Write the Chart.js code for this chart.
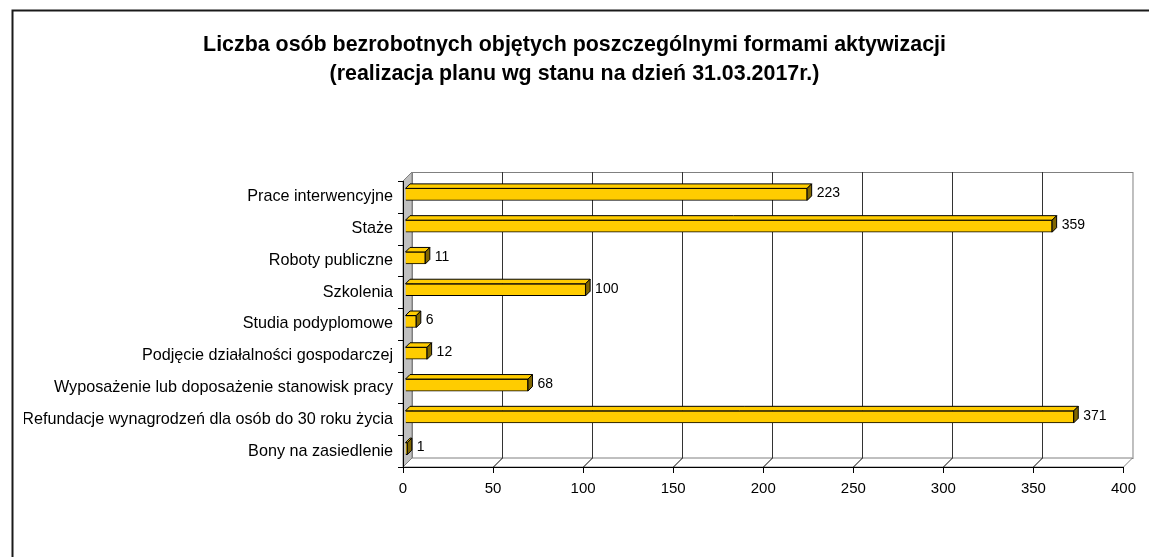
<!DOCTYPE html>
<html>
<head>
<meta charset="utf-8">
<script src="https://cdn.jsdelivr.net/npm/chart.js@4.4.1/dist/chart.umd.min.js"></script>
<style>
  body { margin: 0; background: #fff; }
  canvas { display: block; }
</style>
</head>
<body>
<canvas id="activationChart" width="1149" height="557"></canvas>
<script>
const titleLines = [
    'Liczba osób bezrobotnych objętych poszczególnymi formami aktywizacji',
    '(realizacja planu wg stanu na dzień 31.03.2017r.)'
];
const categories = [
    'Prace interwencyjne',
    'Staże',
    'Roboty publiczne',
    'Szkolenia',
    'Studia podyplomowe',
    'Podjęcie działalności gospodarczej',
    'Wyposażenie lub doposażenie stanowisk pracy',
    'Refundacje wynagrodzeń dla osób do 30 roku życia',
    'Bony na zasiedlenie'
];
const participants = [223, 359, 11, 100, 6, 12, 68, 371, 1];
const axisMin = 0;
const axisMax = 400;
const axisStep = 50;

const FONT = 'Arial, "Liberation Sans", sans-serif';
const WALL_DEPTH = 9;   // depth of the walls / floor
const BAR_SHIFT = 2.5;  // bars sit a little behind the front plane
const BAR_DEPTH = 4.5;  // depth of each bar

// draws the excel-like 3d frame, the bar side faces and the value labels
const frame3d = {
    id: 'frame3d',
    beforeDraw(chart) {
        const ctx = chart.ctx;
        ctx.save();
        ctx.strokeStyle = '#1a1a1a';
        ctx.lineWidth = 2;
        ctx.beginPath();
        ctx.moveTo(12.5, chart.height + 5);
        ctx.lineTo(12.5, 10.5);
        ctx.lineTo(chart.width + 5, 10.5);
        ctx.stroke();
        ctx.restore();
    },
    beforeDatasetsDraw(chart) {
        const ctx = chart.ctx;
        const { left, right, top, bottom } = chart.chartArea;
        const xs = chart.scales.x;
        const D = WALL_DEPTH;
        ctx.save();
        ctx.lineWidth = 1;

        // back wall
        ctx.fillStyle = '#fff';
        ctx.strokeStyle = '#808080';
        ctx.fillRect(left + D, top - D, right - left, bottom - top);
        ctx.strokeRect(left + D + 0.5, top - D + 0.5, right - left, bottom - top);

        // floor
        ctx.beginPath();
        ctx.moveTo(left, bottom);
        ctx.lineTo(right, bottom);
        ctx.lineTo(right + D, bottom - D);
        ctx.lineTo(left + D, bottom - D);
        ctx.closePath();
        ctx.fill();
        ctx.stroke();

        // left wall
        ctx.fillStyle = '#c0c0c0';
        ctx.beginPath();
        ctx.moveTo(left, top);
        ctx.lineTo(left + D, top - D);
        ctx.lineTo(left + D, bottom - D);
        ctx.lineTo(left, bottom);
        ctx.closePath();
        ctx.fill();
        ctx.stroke();

        // gridlines on back wall + floor
        xs.ticks.forEach(t => {
            if (t.value <= axisMin || t.value >= axisMax) return;
            const px = Math.round(xs.getPixelForValue(t.value)) + 0.5;
            ctx.strokeStyle = '#333';
            ctx.beginPath();
            ctx.moveTo(px + D, top - D);
            ctx.lineTo(px + D, bottom - D);
            ctx.stroke();
            ctx.strokeStyle = '#000';
            ctx.beginPath();
            ctx.moveTo(px, bottom);
            ctx.lineTo(px + D, bottom - D);
            ctx.stroke();
        });

        // front axes
        ctx.strokeStyle = '#000';
        ctx.beginPath();
        ctx.moveTo(left + 0.5, top);
        ctx.lineTo(left + 0.5, bottom + 0.5);
        ctx.lineTo(right, bottom + 0.5);
        ctx.stroke();
        xs.ticks.forEach(t => {
            const px = Math.round(xs.getPixelForValue(t.value)) + 0.5;
            ctx.beginPath();
            ctx.moveTo(px, bottom);
            ctx.lineTo(px, bottom + 6);
            ctx.stroke();
        });
        const band = (bottom - top) / categories.length;
        for (let i = 0; i <= categories.length; i++) {
            const py = Math.round(top + i * band) + 0.5;
            ctx.beginPath();
            ctx.moveTo(left - 5, py);
            ctx.lineTo(left, py);
            ctx.stroke();
        }
        ctx.restore();

        ctx.save();
        ctx.translate(BAR_SHIFT, -BAR_SHIFT);
    },
    afterDatasetsDraw(chart) {
        const ctx = chart.ctx;
        ctx.restore();
        const d = BAR_DEPTH;
        const meta = chart.getDatasetMeta(0);
        ctx.save();
        ctx.lineWidth = 1;
        ctx.strokeStyle = '#000';
        meta.data.forEach((bar, i) => {
            const p = bar.getProps(['x', 'y', 'base', 'height'], true);
            const L = p.base + BAR_SHIFT;
            const R = p.x + BAR_SHIFT;
            const T = p.y - p.height / 2 - BAR_SHIFT;
            const B = p.y + p.height / 2 - BAR_SHIFT;

            ctx.fillStyle = '#ffcc00';
            ctx.beginPath();
            ctx.moveTo(L, T);
            ctx.lineTo(R, T);
            ctx.lineTo(R + d, T - d);
            ctx.lineTo(L + d, T - d);
            ctx.closePath();
            ctx.fill();
            ctx.stroke();

            ctx.fillStyle = '#806600';
            ctx.beginPath();
            ctx.moveTo(R, T);
            ctx.lineTo(R + d, T - d);
            ctx.lineTo(R + d, B - d);
            ctx.lineTo(R, B);
            ctx.closePath();
            ctx.fill();
            ctx.stroke();

            ctx.fillStyle = '#000';
            ctx.font = '14px ' + FONT;
            ctx.textAlign = 'left';
            ctx.textBaseline = 'middle';
            ctx.fillText(String(participants[i]), R + d + 5, (T + B) / 2 - 1);
        });
        ctx.restore();
    }
};

const ctx = document.getElementById('activationChart').getContext('2d');
const activationChart = new Chart(ctx, {
    type: 'bar',
    data: {
        labels: categories,
        datasets: [{
            data: participants,
            backgroundColor: '#ffcc00',
            borderColor: '#000',
            borderWidth: 1,
            barThickness: 12
        }]
    },
    options: {
        indexAxis: 'y',
        responsive: false,
        animation: false,
        layout: {
            padding: { left: 24, right: 24, top: 0, bottom: 0 }
        },
        plugins: {
            legend: { display: false },
            tooltip: { enabled: false },
            title: {
                display: true,
                text: titleLines,
                color: '#000',
                font: { family: FONT, size: 21.4, weight: 'bold', lineHeight: 29 / 21.4 },
                padding: { top: 30.5, bottom: 92.5 }
            }
        },
        scales: {
            x: {
                min: axisMin,
                max: axisMax,
                grid: { display: false, drawTicks: false },
                border: { display: false },
                ticks: {
                    stepSize: axisStep,
                    padding: 13,
                    color: '#000',
                    font: { family: FONT, size: 15 }
                },
                afterFit(scale) { scale.height = 90; }
            },
            y: {
                grid: { display: false, drawTicks: false },
                border: { display: false },
                ticks: {
                    padding: 10,
                    color: '#000',
                    font: { family: FONT, size: 16.2 }
                },
                afterFit(scale) { scale.width = 379; }
            }
        }
    },
    plugins: [frame3d]
});
</script>
</body>
</html>
